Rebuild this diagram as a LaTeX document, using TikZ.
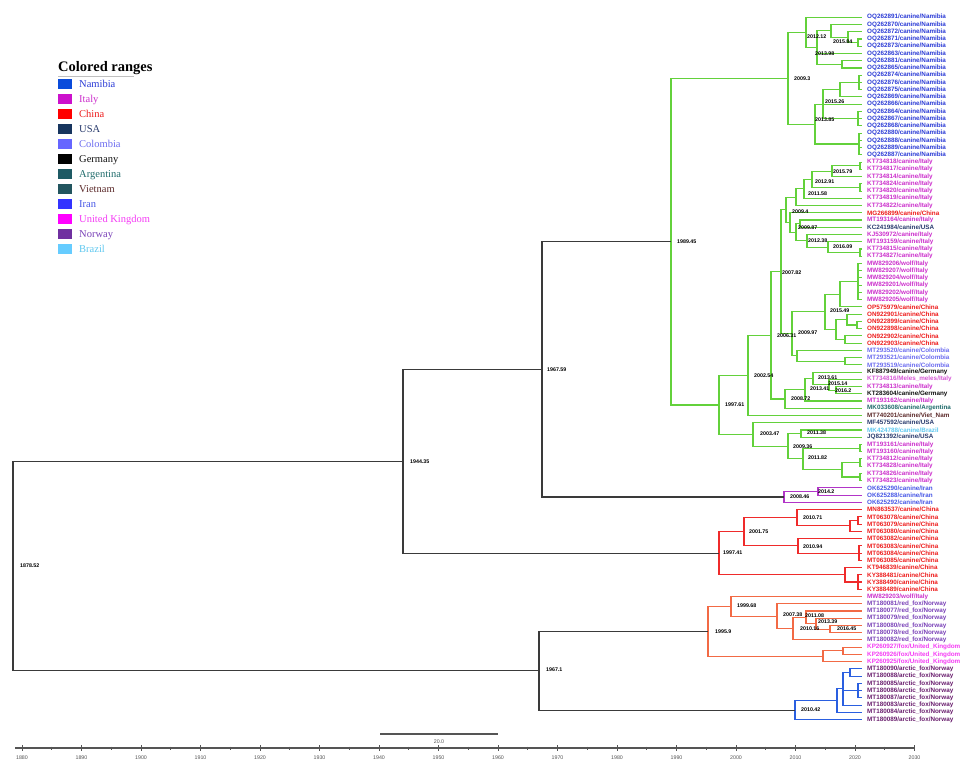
\documentclass[tikz,border=0pt]{standalone}
\usepackage{fontspec}
\setmainfont{Liberation Serif}
\newfontfamily\lsans{Liberation Sans}
\usetikzlibrary{calc}
% tip label colours
\definecolor{nam}{HTML}{2B3BD6}
\definecolor{ita}{HTML}{CC2FCC}
\definecolor{chn}{HTML}{EE1C1C}
\definecolor{usa}{HTML}{2A3C6E}
\definecolor{col}{HTML}{6C6CF0}
\definecolor{ger}{HTML}{111111}
\definecolor{arg}{HTML}{1F6B6B}
\definecolor{vie}{HTML}{5C2A2A}
\definecolor{bra}{HTML}{5EC8F0}
\definecolor{irn}{HTML}{4656E6}
\definecolor{nor}{HTML}{7A42B8}
\definecolor{ukc}{HTML}{F53CF5}
\definecolor{arc}{HTML}{6A1E6E}
% legend squares
\definecolor{sqnam}{HTML}{0A4BDB}
\definecolor{sqita}{HTML}{CC11CC}
\definecolor{sqchn}{HTML}{FF0000}
\definecolor{squsa}{HTML}{17355E}
\definecolor{sqcol}{HTML}{6666FF}
\definecolor{sqger}{HTML}{000000}
\definecolor{sqarg}{HTML}{1E5A64}
\definecolor{sqvie}{HTML}{22555F}
\definecolor{sqirn}{HTML}{3333FF}
\definecolor{squkc}{HTML}{FF00FF}
\definecolor{sqnor}{HTML}{7030A0}
\definecolor{sqbra}{HTML}{66CCFF}
% branch colours
\definecolor{grn}{HTML}{63D13B}
\definecolor{irb}{HTML}{B235C8}
\definecolor{rdb}{HTML}{EF2B2B}
\definecolor{org}{HTML}{F26A45}
\definecolor{blu}{HTML}{2A5FE0}
\definecolor{blk}{HTML}{3A3A3A}
\definecolor{axc}{HTML}{555555}

\tikzset{
  tiplab/.style={anchor=west, inner sep=0pt, font=\lsans\bfseries\fontsize{6.3}{7}\selectfont},
  nlab/.style={anchor=west, inner sep=0pt, text=black, font=\lsans\bfseries\fontsize{5.3}{6}\selectfont},
  br/.style={line width=1.1pt},
  leglab/.style={anchor=base west, inner sep=0pt, font=\fontsize{10.5}{12}\selectfont},
  axlab/.style={anchor=center, inner sep=0pt, text=axc, font=\lsans\fontsize{5.3}{6}\selectfont}
}

\newcommand\tp[3]{%
  \coordinate (e#1) at (862,{17.3+(#1-1)*7.24});
  \node[tiplab,text=#3] (t#1) at (867,{17.3+(#1-1)*7.24}) {#2};}
\newcommand\nd[4]{%
  \coordinate (m#1) at ($(#3)!0.5!(#4)$);
  \coordinate (#1) at (#2,0 |- m#1);}
\newcommand\brs[3]{\foreach \ch in {#3}{\draw[br,#1] (#2) |- (\ch);}}

\begin{document}
\begin{tikzpicture}[x=1pt,y=-1pt]
\useasboundingbox (0,0) rectangle (963,765);
\fill[white] (0,0) rectangle (963,765);

% ---------------- tips
\tp{1}{OQ262891/canine/Namibia}{nam}
\tp{2}{OQ262870/canine/Namibia}{nam}
\tp{3}{OQ262872/canine/Namibia}{nam}
\tp{4}{OQ262871/canine/Namibia}{nam}
\tp{5}{OQ262873/canine/Namibia}{nam}
\tp{6}{OQ262863/canine/Namibia}{nam}
\tp{7}{OQ262881/canine/Namibia}{nam}
\tp{8}{OQ262865/canine/Namibia}{nam}
\tp{9}{OQ262874/canine/Namibia}{nam}
\tp{10}{OQ262876/canine/Namibia}{nam}
\tp{11}{OQ262875/canine/Namibia}{nam}
\tp{12}{OQ262869/canine/Namibia}{nam}
\tp{13}{OQ262866/canine/Namibia}{nam}
\tp{14}{OQ262864/canine/Namibia}{nam}
\tp{15}{OQ262867/canine/Namibia}{nam}
\tp{16}{OQ262868/canine/Namibia}{nam}
\tp{17}{OQ262880/canine/Namibia}{nam}
\tp{18}{OQ262888/canine/Namibia}{nam}
\tp{19}{OQ262889/canine/Namibia}{nam}
\tp{20}{OQ262887/canine/Namibia}{nam}
\tp{21}{KT734818/canine/Italy}{ita}
\tp{22}{KT734817/canine/Italy}{ita}
\tp{23}{KT734814/canine/Italy}{ita}
\tp{24}{KT734824/canine/Italy}{ita}
\tp{25}{KT734820/canine/Italy}{ita}
\tp{26}{KT734819/canine/Italy}{ita}
\tp{27}{KT734822/canine/Italy}{ita}
\tp{28}{MG266899/canine/China}{chn}
\tp{29}{MT193164/canine/Italy}{ita}
\tp{30}{KC241984/canine/USA}{usa}
\tp{31}{KJ530972/canine/Italy}{ita}
\tp{32}{MT193159/canine/Italy}{ita}
\tp{33}{KT734815/canine/Italy}{ita}
\tp{34}{KT734827/canine/Italy}{ita}
\tp{35}{MW829206/wolf/Italy}{ita}
\tp{36}{MW829207/wolf/Italy}{ita}
\tp{37}{MW829204/wolf/Italy}{ita}
\tp{38}{MW829201/wolf/Italy}{ita}
\tp{39}{MW829202/wolf/Italy}{ita}
\tp{40}{MW829205/wolf/Italy}{ita}
\tp{41}{OP575979/canine/China}{chn}
\tp{42}{ON922901/canine/China}{chn}
\tp{43}{ON922899/canine/China}{chn}
\tp{44}{ON922898/canine/China}{chn}
\tp{45}{ON922902/canine/China}{chn}
\tp{46}{ON922903/canine/China}{chn}
\tp{47}{MT293520/canine/Colombia}{col}
\tp{48}{MT293521/canine/Colombia}{col}
\tp{49}{MT293519/canine/Colombia}{col}
\tp{50}{KF887949/canine/Germany}{ger}
\tp{51}{KT734816/Meles\_meles/Italy}{ita!80!white}
\tp{52}{KT734813/canine/Italy}{ita}
\tp{53}{KT283604/canine/Germany}{ger}
\tp{54}{MT193162/canine/Italy}{ita}
\tp{55}{MK033608/canine/Argentina}{arg}
\tp{56}{MT740201/canine/Viet\_Nam}{vie}
\tp{57}{MF457592/canine/USA}{usa}
\tp{58}{MK424788/canine/Brazil}{bra}
\tp{59}{JQ821392/canine/USA}{usa}
\tp{60}{MT193161/canine/Italy}{ita}
\tp{61}{MT193160/canine/Italy}{ita}
\tp{62}{KT734812/canine/Italy}{ita}
\tp{63}{KT734828/canine/Italy}{ita}
\tp{64}{KT734826/canine/Italy}{ita}
\tp{65}{KT734823/canine/Italy}{ita}
\tp{66}{OK625290/canine/Iran}{irn}
\tp{67}{OK625288/canine/Iran}{irn}
\tp{68}{OK625292/canine/Iran}{irn}
\tp{69}{MN863537/canine/China}{chn}
\tp{70}{MT063078/canine/China}{chn}
\tp{71}{MT063079/canine/China}{chn}
\tp{72}{MT063080/canine/China}{chn}
\tp{73}{MT063082/canine/China}{chn}
\tp{74}{MT063083/canine/China}{chn}
\tp{75}{MT063084/canine/China}{chn}
\tp{76}{MT063085/canine/China}{chn}
\tp{77}{KT946839/canine/China}{chn}
\tp{78}{KY388481/canine/China}{chn}
\tp{79}{KY388490/canine/China}{chn}
\tp{80}{KY388489/canine/China}{chn}
\tp{81}{MW829203/wolf/Italy}{ita}
\tp{82}{MT180081/red\_fox/Norway}{nor}
\tp{83}{MT180077/red\_fox/Norway}{nor}
\tp{84}{MT180079/red\_fox/Norway}{nor}
\tp{85}{MT180080/red\_fox/Norway}{nor}
\tp{86}{MT180078/red\_fox/Norway}{nor}
\tp{87}{MT180082/red\_fox/Norway}{nor}
\tp{88}{KP260927/fox/United\_Kingdom}{ukc}
\tp{89}{KP260926/fox/United\_Kingdom}{ukc}
\tp{90}{KP260925/fox/United\_Kingdom}{ukc}
\tp{91}{MT180090/arctic\_fox/Norway}{arc}
\tp{92}{MT180088/arctic\_fox/Norway}{arc}
\tp{93}{MT180085/arctic\_fox/Norway}{arc}
\tp{94}{MT180086/arctic\_fox/Norway}{arc}
\tp{95}{MT180087/arctic\_fox/Norway}{arc}
\tp{96}{MT180083/arctic\_fox/Norway}{arc}
\tp{97}{MT180084/arctic\_fox/Norway}{arc}
\tp{98}{MT180089/arctic\_fox/Norway}{arc}

% ---------------- internal nodes
% Namibia
\nd{a1}{858}{e4}{e5}
\nd{a2}{848}{e3}{a1}
\nd{n1584}{831}{e2}{a2}
\nd{c1}{842}{e7}{e8}
\nd{n1398}{817}{n1584}{c1}
\nd{n1212}{806}{e1}{n1398}
\nd{p1}{859}{e9}{e11}
\nd{p2}{840}{p1}{e12}
\nd{p3}{858}{e14}{e16}
\nd{n1526}{823}{p2}{p3}
\nd{p4}{859}{e17}{e20}
\nd{n1385}{815}{n1526}{p4}
\nd{n093}{788}{n1212}{n1385}
% Italy / USA
\nd{i1}{860}{e21}{e22}
\nd{n1579}{832}{i1}{e23}
\nd{i2}{860}{e24}{e25}
\nd{n1291}{812}{n1579}{i2}
\nd{n1158}{804}{n1291}{e26}
\nd{nF}{796}{n1158}{e27}
\nd{nK}{800}{e29}{e30}
\nd{i3}{860}{e33}{e34}
\nd{n1609}{828}{e32}{i3}
\nd{n1238}{807}{e31}{n1609}
\nd{n0987}{796}{nK}{n1238}
\nd{nI}{790}{e28}{n0987}
\nd{n094}{786}{nF}{nI}
% wolves / China / Colombia
\nd{w}{858}{e35}{e40}
\nd{nD}{840}{w}{e41}
\nd{ce1}{857}{e43}{e44}
\nd{ce2}{847}{e42}{ce1}
\nd{ce3}{845}{e45}{e46}
\nd{nE}{836}{ce2}{ce3}
\nd{n1549}{825}{nD}{nE}
\nd{co2}{845}{e48}{e49}
\nd{co}{797}{e47}{co2}
\nd{n0997}{792}{n1549}{co}
\nd{n0782}{781}{n094}{n0997}
% Germany group
\nd{n162}{836}{e52}{e53}
\nd{n1514}{829}{e51}{n162}
\nd{n1361}{813}{e50}{n1514}
\nd{n1341}{805}{n1361}{e54}
\nd{n0872}{785}{n1341}{e55}
\nd{n0631}{771}{n0782}{n0872}
\nd{n0254}{748}{n0631}{e56}
% USA / Brazil / Italy
\nd{n1138}{801}{e58}{e59}
\nd{i4}{860}{e60}{e61}
\nd{i5}{860}{e62}{e63}
\nd{i6}{860}{e64}{e65}
\nd{nX}{842}{i5}{i6}
\nd{n1182}{803}{i4}{nX}
\nd{n0936}{788}{n1138}{n1182}
\nd{n0347}{753}{e57}{n0936}
\nd{n9761}{719}{n0254}{n0347}
\nd{n8945}{671}{n093}{n9761}
% Iran
\nd{n142}{818}{e66}{e67}
\nd{n0846}{784}{n142}{e68}
\nd{n6759}{542}{n8945}{n0846}
% China
\nd{q0}{858}{e70}{e71}
\nd{q1}{850}{q0}{e72}
\nd{n1071}{797}{e69}{q1}
\nd{q2}{859}{e74}{e76}
\nd{n1094}{798}{e73}{q2}
\nd{n0175}{744}{n1071}{n1094}
\nd{q4}{858}{e78}{e80}
\nd{q3}{845}{e77}{q4}
\nd{n9741}{719}{n0175}{q3}
\nd{n4435}{403}{n6759}{n9741}
% Norway / UK
\nd{n1645}{830}{e85}{e86}
\nd{n1339}{816}{e84}{n1645}
\nd{n1108}{806}{e83}{n1339}
\nd{n1016}{793}{n1108}{e87}
\nd{n0738}{777}{e82}{n1016}
\nd{n9968}{731}{e81}{n0738}
\nd{u1}{843}{e88}{e89}
\nd{u2}{823}{u1}{e90}
\nd{n959}{708}{n9968}{u2}
% arctic fox
\nd{r1}{850}{e91}{e92}
\nd{r2}{858}{e93}{e95}
\nd{r3}{843}{r1}{e96}
\nd{r4}{837}{r3}{e97}
\nd{n1042}{795}{r4}{e98}
\nd{n671}{539}{n959}{n1042}
\nd{root}{13}{n4435}{n671}

% ---------------- branches
\brs{grn}{a1}{e4,e5}
\brs{grn}{a2}{e3,a1}
\brs{grn}{n1584}{e2,a2}
\brs{grn}{c1}{e7,e8}
\brs{grn}{n1398}{n1584,e6,c1}
\brs{grn}{n1212}{e1,n1398}
\brs{grn}{p1}{e9,e10,e11}
\brs{grn}{p2}{p1,e12}
\brs{grn}{p3}{e14,e15,e16}
\brs{grn}{n1526}{p2,e13,p3}
\brs{grn}{p4}{e17,e18,e19,e20}
\brs{grn}{n1385}{n1526,p4}
\brs{grn}{n093}{n1212,n1385}
\brs{grn}{i1}{e21,e22}
\brs{grn}{n1579}{i1,e23}
\brs{grn}{i2}{e24,e25}
\brs{grn}{n1291}{n1579,i2}
\brs{grn}{n1158}{n1291,e26}
\brs{grn}{nF}{n1158,e27}
\brs{grn}{nK}{e29,e30}
\brs{grn}{i3}{e33,e34}
\brs{grn}{n1609}{e32,i3}
\brs{grn}{n1238}{e31,n1609}
\brs{grn}{n0987}{nK,n1238}
\brs{grn}{nI}{e28,n0987}
\brs{grn}{n094}{nF,nI}
\brs{grn}{w}{e35,e36,e37,e38,e39,e40}
\brs{grn}{nD}{w,e41}
\brs{grn}{ce1}{e43,e44}
\brs{grn}{ce2}{e42,ce1}
\brs{grn}{ce3}{e45,e46}
\brs{grn}{nE}{ce2,ce3}
\brs{grn}{n1549}{nD,nE}
\brs{grn}{co2}{e48,e49}
\brs{grn}{co}{e47,co2}
\brs{grn}{n0997}{n1549,co}
\brs{grn}{n0782}{n094,n0997}
\brs{grn}{n162}{e52,e53}
\brs{grn}{n1514}{e51,n162}
\brs{grn}{n1361}{e50,n1514}
\brs{grn}{n1341}{n1361,e54}
\brs{grn}{n0872}{n1341,e55}
\brs{grn}{n0631}{n0782,n0872}
\brs{grn}{n0254}{n0631,e56}
\brs{grn}{n1138}{e58,e59}
\brs{grn}{i4}{e60,e61}
\brs{grn}{i5}{e62,e63}
\brs{grn}{i6}{e64,e65}
\brs{grn}{nX}{i5,i6}
\brs{grn}{n1182}{i4,nX}
\brs{grn}{n0936}{n1138,n1182}
\brs{grn}{n0347}{e57,n0936}
\brs{grn}{n9761}{n0254,n0347}
\brs{grn}{n8945}{n093,n9761}
\brs{irb}{n142}{e66,e67}
\brs{irb}{n0846}{n142,e68}
\brs{rdb}{q0}{e70,e71}
\brs{rdb}{q1}{q0,e72}
\brs{rdb}{n1071}{e69,q1}
\brs{rdb}{q2}{e74,e75,e76}
\brs{rdb}{n1094}{e73,q2}
\brs{rdb}{n0175}{n1071,n1094}
\brs{rdb}{q4}{e78,e79,e80}
\brs{rdb}{q3}{e77,q4}
\brs{rdb}{n9741}{n0175,q3}
\brs{org}{n1645}{e85,e86}
\brs{org}{n1339}{e84,n1645}
\brs{org}{n1108}{e83,n1339}
\brs{org}{n1016}{n1108,e87}
\brs{org}{n0738}{e82,n1016}
\brs{org}{n9968}{e81,n0738}
\brs{org}{u1}{e88,e89}
\brs{org}{u2}{u1,e90}
\brs{org}{n959}{n9968,u2}
\brs{blu}{r1}{e91,e92}
\brs{blu}{r2}{e93,e94,e95}
\brs{blu}{r3}{r1,r2,e96}
\brs{blu}{r4}{r3,e97}
\brs{blu}{n1042}{r4,e98}
\brs{blk}{n6759}{n8945,n0846}
\brs{blk}{n4435}{n6759,n9741}
\brs{blk}{n671}{n959,n1042}
\brs{blk}{root}{n4435,n671}

% ---------------- node date labels
\node[nlab] (l01) at (807,37) {2012.12};
\node[nlab] (l02) at (833,42) {2015.84};
\node[nlab] (l03) at (815,54) {2013.98};
\node[nlab] (l04) at (794,79) {2009.3};
\node[nlab] (l05) at (825,102) {2015.26};
\node[nlab] (l06) at (815,120) {2013.85};
\node[nlab] (l07) at (677,242) {1989.45};
\node[nlab] (l08) at (833,172) {2015.79};
\node[nlab] (l09) at (815,182) {2012.91};
\node[nlab] (l10) at (808,194) {2011.58};
\node[nlab] (l11) at (792,212) {2009.4};
\node[nlab] (l12) at (798,228) {2009.87};
\node[nlab] (l13) at (808,241) {2012.38};
\node[nlab] (l14) at (833,247) {2016.09};
\node[nlab] (l15) at (782,273) {2007.82};
\node[nlab] (l16) at (830,311) {2015.49};
\node[nlab] (l17) at (777,336) {2006.31};
\node[nlab] (l18) at (798,333) {2009.97};
\node[nlab] (l19) at (754,376) {2002.54};
\node[nlab] (l20) at (818,378) {2013.61};
\node[nlab] (l21) at (828,384) {2015.14};
\node[nlab] (l22) at (810,389) {2013.41};
\node[nlab] (l23) at (835,391) {2016.2};
\node[nlab] (l24) at (791,399) {2008.72};
\node[nlab] (l25) at (725,405) {1997.61};
\node[nlab] (l26) at (807,433) {2011.38};
\node[nlab] (l27) at (760,434) {2003.47};
\node[nlab] (l28) at (793,447) {2009.36};
\node[nlab] (l29) at (808,458) {2011.82};
\node[nlab] (l30) at (818,492) {2014.2};
\node[nlab] (l31) at (790,497) {2008.46};
\node[nlab] (l32) at (803,518) {2010.71};
\node[nlab] (l33) at (749,532) {2001.75};
\node[nlab] (l34) at (803,547) {2010.94};
\node[nlab] (l35) at (723,553) {1997.41};
\node[nlab] (l36) at (737,606) {1999.68};
\node[nlab] (l37) at (783,615) {2007.38};
\node[nlab] (l38) at (805,616) {2011.08};
\node[nlab] (l39) at (818,622) {2013.39};
\node[nlab] (l40) at (800,629) {2010.16};
\node[nlab] (l41) at (837,629) {2016.45};
\node[nlab] (l42) at (715,632) {1995.9};
\node[nlab] (l43) at (801,710) {2010.42};
\node[nlab] (l44) at (547,370) {1967.59};
\node[nlab] (l45) at (410,462) {1944.35};
\node[nlab] (l46) at (546,670) {1967.1};
\node[nlab] (l47) at (20,566) {1878.52};

% ---------------- legend
\node[anchor=base west, inner sep=0pt, font=\bfseries\fontsize{14.5}{16}\selectfont] (legt) at (58,71.7) {Colored ranges};
\draw[black!25, line width=0.5pt] (58,76.5) -- (134,76.5);
\foreach \sq/\tc/\lab [count=\k from 0] in {sqnam/nam/Namibia, sqita/ita/Italy, sqchn/chn/China, squsa/usa/USA, sqcol/col/Colombia, sqger/ger/Germany, sqarg/arg/Argentina, sqvie/vie/Vietnam, sqirn/irn/Iran, squkc/ukc/United Kingdom, sqnor/nor/Norway, sqbra/bra/Brazil}{
  \fill[\sq] (58.3,{78.7+\k*15.05}) rectangle (71.7,{88.7+\k*15.05});
  \node[leglab,text=\tc] (lg\k) at (79,{87.2+\k*15.05}) {\lab};
}

% ---------------- scale bar
\coordinate (sb1) at (380,734);
\coordinate (sb2) at (498,734);
\draw[axc, line width=1.3pt] (sb1) -- (sb2);
\node[axlab] (sbl) at (439,742) {20.0};

% ---------------- time axis
\coordinate (ax1) at (15,748);
\coordinate (ax2) at (915,748);
\draw[axc, line width=1.6pt] (ax1) -- (ax2);
\foreach \yr in {1880,1890,...,2030}{
  \draw[axc, line width=0.8pt] ({22+(\yr-1880)*5.95},745) -- ({22+(\yr-1880)*5.95},751);
  \node[axlab] at ({22+(\yr-1880)*5.95},758) {\yr};
}
\foreach \yr in {1885,1895,...,2025}{
  \draw[axc, line width=0.6pt] ({22+(\yr-1880)*5.95},746.5) -- ({22+(\yr-1880)*5.95},749.5);
}
\end{tikzpicture}
\end{document}
